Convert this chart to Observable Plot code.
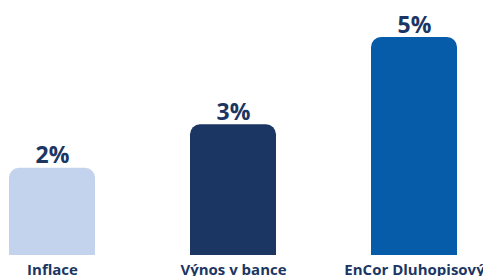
<!DOCTYPE html>
<html>
<head>
<meta charset="utf-8">
<script src="https://cdn.jsdelivr.net/npm/d3@7"></script>
<script src="https://cdn.jsdelivr.net/npm/@observablehq/plot@0.6"></script>
<style>
  html, body { margin: 0; padding: 0; background: #fff; overflow: hidden; }
</style>
</head>
<body>
<div id="chart"></div>
<script>
const categories = ["Inflace", "Výnos v bance", "EnCor Dluhopisový"];
const values = [2, 3, 5];
const colors = ["#c3d3ee", "#1c3663", "#075caa"];

const data = categories.map((c, i) => ({category: c, value: values[i], color: colors[i]}));

const chart = Plot.plot({
  width: 483,
  height: 276,
  marginTop: 37,
  marginBottom: 21,
  marginLeft: 8,
  marginRight: 25,
  style: {fontFamily: "'Open Sans', sans-serif", fontSize: "15px", fontWeight: "bold", color: "#1c3663", background: "#fff"},
  x: {domain: categories, paddingInner: 0.527, paddingOuter: 0, tickSize: 0, tickPadding: 9, label: null},
  y: {domain: [0, 5], axis: null},
  marks: [
    Plot.barY(data, {x: "category", y: "value", fill: "color", rx: 10}),
    Plot.barY(data, {x: "category", y1: 0, y2: d => d.value / 2, fill: "color"}),
    Plot.text(data, {x: "category", y: "value", text: d => d.value + "%", dy: -5, lineAnchor: "bottom", fontSize: 23, fontWeight: "bold", fill: "#1c3663"})
  ]
});
document.getElementById("chart").appendChild(chart);
</script>
</body>
</html>
